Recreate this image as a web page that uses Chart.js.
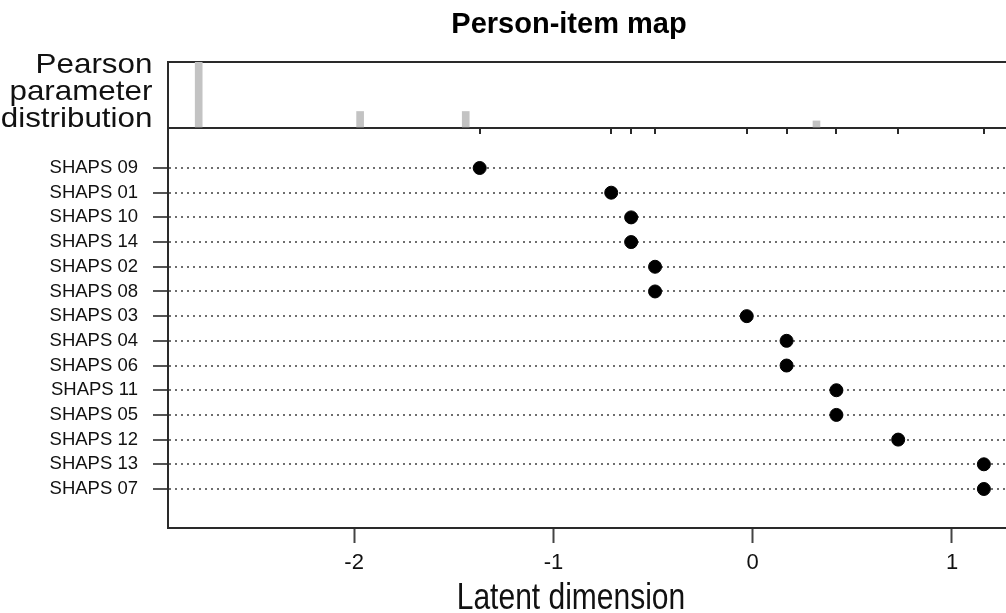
<!DOCTYPE html>
<html>
<head>
<meta charset="utf-8">
<title>Person-item map</title>
<script src="https://cdn.jsdelivr.net/npm/chart.js@4"></script>
<style>
    html, body { margin: 0; padding: 0; background: #fff; overflow: hidden; }
    #wrap { position: relative; width: 1006px; height: 613px; }
    #wrap canvas { display: block; }
    .txt { position: absolute; font-family: "Liberation Sans", Arial, sans-serif; color: #111; white-space: nowrap; }
    #main-title {
        top: 6px; left: 369px; width: 400px; text-align: center;
        font-size: 29px; line-height: 34px; font-weight: bold; color: #000;
    }
    #side-label {
        top: 50px; right: 854px; text-align: right;
        font-size: 28px; line-height: 27px;
        transform: scaleX(1.12); transform-origin: right top;
    }
    #x-title {
        top: 584px; left: 371px; width: 400px; text-align: center;
        font-size: 30px; line-height: 30px;
        transform: scaleY(1.2); transform-origin: center 25px;
    }
</style>
</head>
<body>
<div id="wrap">
    <canvas id="myChart"></canvas>
    <div class="txt" id="main-title">Person-item map</div>
    <div class="txt" id="side-label">Pearson<br>parameter<br>distribution</div>
    <div class="txt" id="x-title">Latent dimension</div>
</div>
<script>
let items = ["SHAPS 09", "SHAPS 01", "SHAPS 10", "SHAPS 14", "SHAPS 02", "SHAPS 08", "SHAPS 03",
    "SHAPS 04", "SHAPS 06", "SHAPS 11", "SHAPS 05", "SHAPS 12", "SHAPS 13", "SHAPS 07"];
let itemLocations = [-1.37, -0.71, -0.61, -0.61, -0.49, -0.49, -0.03, 0.17, 0.17, 0.42, 0.42, 0.73, 1.16, 1.16];

// person parameter histogram (top panel)
let personLocations = [-2.78, -1.97, -1.44, 0.32];
let personCounts = [28, 7, 7, 3];

let xTicks = [-2, -1, 0, 1];

const frameColor = '#2a2a2a';
Chart.defaults.font.family = '"Liberation Sans", Arial, sans-serif';
Chart.defaults.color = '#111';

// small rug ticks under the histogram at every item location
const rugPlugin = {
    id: 'rug',
    afterDatasetsDraw(chart) {
        const ctx = chart.ctx;
        const x = chart.scales.x;
        const y0 = chart.scales.yHist.getPixelForValue(0);
        ctx.save();
        ctx.strokeStyle = frameColor;
        ctx.lineWidth = 2;
        for (let v of itemLocations) {
            const px = Math.round(x.getPixelForValue(v));
            ctx.beginPath();
            ctx.moveTo(px, y0);
            ctx.lineTo(px, y0 + 6);
            ctx.stroke();
        }
        ctx.restore();
    }
};

window.addEventListener("DOMContentLoaded", () => {
    const ctx = document.getElementById('myChart');
    const maxCount = Math.max(...personCounts);

    new Chart(ctx, {
        type: 'scatter',
        data: {
            datasets: [
                {
                    type: 'bar',
                    label: 'Persons',
                    data: personLocations.map((v, i) => ({ x: v, y: personCounts[i] })),
                    xAxisID: 'x',
                    yAxisID: 'yHist',
                    backgroundColor: '#c3c3c3',
                    barThickness: 7
                },
                {
                    label: 'Items',
                    data: itemLocations.map((v, i) => ({ x: v, y: i })),
                    xAxisID: 'x',
                    yAxisID: 'y',
                    pointRadius: 6.5,
                    backgroundColor: '#000',
                    borderColor: '#000'
                }
            ]
        },
        options: {
            responsive: true,
            maintainAspectRatio: false,
            animation: false,
            layout: {
                autoPadding: false,
                padding: { top: 62, right: 0, left: 0, bottom: 0 }
            },
            plugins: {
                legend: { display: false },
                tooltip: { enabled: false },
                title: { display: false }
            },
            scales: {
                x: {
                    type: 'linear',
                    position: 'bottom',
                    min: -2.934,
                    max: 1.271,
                    offset: false,
                    afterBuildTicks: (scale) => { scale.ticks = xTicks.map(v => ({ value: v })); },
                    afterFit: (scale) => {
                        scale.height = 85;
                        scale.paddingLeft = 0;
                        scale.paddingRight = 0;
                    },
                    ticks: {
                        font: { size: 22 },
                        color: '#111',
                        padding: 7
                    },
                    grid: {
                        offset: false,
                        drawOnChartArea: false,
                        drawTicks: true,
                        tickLength: 15,
                        tickColor: '#444',
                        tickWidth: 2
                    },
                    border: { display: true, color: frameColor, width: 2 }
                },
                y: {
                    type: 'linear',
                    position: 'left',
                    stack: 'panels',
                    stackWeight: 400,
                    reverse: true,
                    min: -1.62,
                    max: 14.58,
                    afterBuildTicks: (scale) => { scale.ticks = items.map((_, i) => ({ value: i })); },
                    afterFit: (scale) => { scale.width = 168; },
                    ticks: {
                        font: { size: 18.5 },
                        color: '#111',
                        padding: 15,
                        autoSkip: false,
                        callback: (value) => items[value]
                    },
                    grid: {
                        color: '#6e6e6e',
                        lineWidth: 2,
                        tickLength: 15,
                        tickColor: '#555',
                        tickWidth: 2,
                        tickBorderDash: []
                    },
                    border: { display: true, color: frameColor, width: 2, dash: [2, 4] }
                },
                yHist: {
                    type: 'linear',
                    position: 'left',
                    stack: 'panels',
                    stackWeight: 66,
                    min: 0,
                    max: maxCount,
                    afterBuildTicks: (scale) => { scale.ticks = [{ value: 0 }, { value: maxCount }]; },
                    afterFit: (scale) => { scale.width = 168; },
                    ticks: { display: false },
                    grid: {
                        color: frameColor,
                        lineWidth: 2,
                        drawTicks: false
                    },
                    border: { display: true, color: frameColor, width: 2 }
                }
            }
        },
        plugins: [rugPlugin]
    });
});
</script>
</body>
</html>
